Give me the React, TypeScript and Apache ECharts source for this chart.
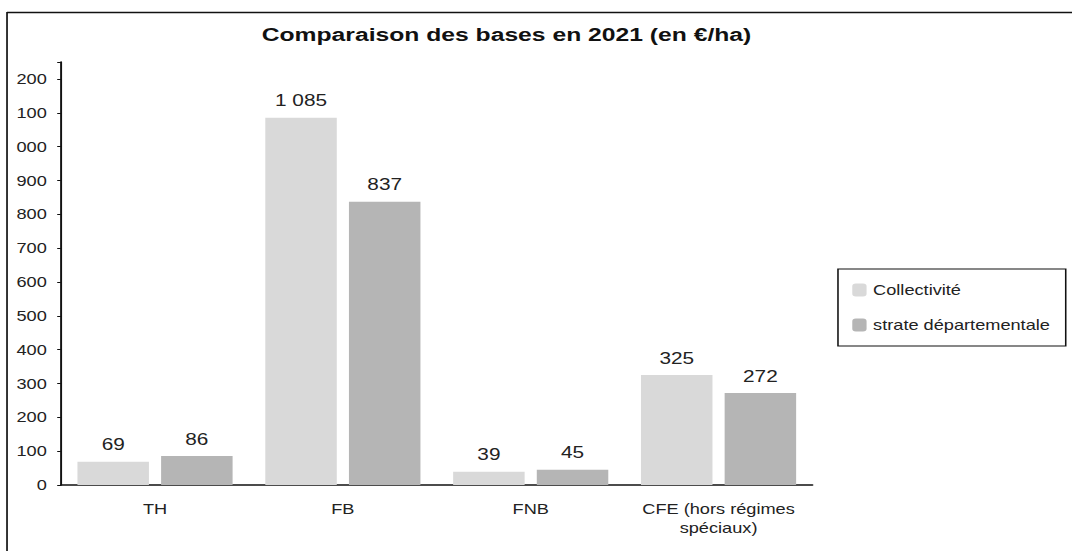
import React, { useEffect, useRef } from 'react';
import * as echarts from 'echarts';

const categories = ['TH', 'FB', 'FNB', 'CFE (hors régimes\nspéciaux)'];
const collectivite = [69, 1085, 39, 325];
const strate = [86, 837, 45, 272];
const seriesNames = ['Collectivité', 'strate départementale'];
const titleText = 'Comparaison des bases en 2021 (en €/ha)';

const SX = 1.3;
const W = 1072 / SX;
const H = 551;
const FONT = '"Liberation Sans", Arial, sans-serif';

const fmt = (v: number) => String(v).replace(/\B(?=(\d{3})+(?!\d))/g, ' ');

export default function App() {
  const ref = useRef<HTMLDivElement>(null);
  useEffect(() => {
    if (!ref.current) return;
    const chart = echarts.init(ref.current, undefined, { renderer: 'svg' });
    const barLabel = {
      show: true,
      position: 'top',
      distance: 9,
      fontFamily: FONT,
      fontSize: 16,
      color: '#222',
      formatter: (p: any) => fmt(p.value),
    };
    chart.setOption({
      animation: false,
      backgroundColor: '#fff',
      textStyle: { fontFamily: FONT },
      title: {
        text: titleText,
        left: 389.6,
        textAlign: 'center',
        top: 25,
        padding: 0,
        textStyle: { fontFamily: FONT, fontSize: 19, fontWeight: 'bold', color: '#111' },
      },
      legend: {
        orient: 'vertical',
        left: 644.6,
        top: 269,
        padding: [14, 12, 14, 11],
        borderColor: '#111',
        borderWidth: 1.2,
        itemWidth: 11,
        itemHeight: 13,
        itemGap: 21,
        textStyle: { fontFamily: FONT, fontSize: 14, color: '#222' },
        data: seriesNames,
      },
      grid: { left: 47, right: W - 624.6, top: 62, bottom: H - 485, containLabel: false },
      xAxis: {
        type: 'category',
        data: categories,
        axisLine: { lineStyle: { color: '#111', width: 1.5 } },
        axisTick: { show: false },
        axisLabel: { interval: 0, fontFamily: FONT, fontSize: 14, color: '#222', margin: 14, lineHeight: 19 },
      },
      yAxis: {
        type: 'value',
        min: 0,
        max: 1250,
        interval: 100,
        splitLine: { show: false },
        axisLine: { show: true, lineStyle: { color: '#111', width: 1.5 } },
        axisTick: { show: true, length: 3, lineStyle: { color: '#111' } },
        axisLabel: {
          fontFamily: FONT,
          fontSize: 14,
          color: '#222',
          margin: 11,
          formatter: (v: number) =>
            v % 100 !== 0 ? '' : v >= 1000 ? String(v % 1000).padStart(3, '0') : String(v),
        },
      },
      series: [
        {
          name: seriesNames[0],
          type: 'bar',
          data: collectivite,
          barWidth: 55,
          barGap: '17%',
          itemStyle: { color: '#d9d9d9' },
          label: barLabel,
        },
        {
          name: seriesNames[1],
          type: 'bar',
          data: strate,
          barWidth: 55,
          itemStyle: { color: '#b5b5b5' },
          label: barLabel,
        },
      ],
      graphic: [
        {
          type: 'line',
          shape: { x1: 5.4, y1: 12, x2: 5.4, y2: H },
          style: { stroke: '#111', lineWidth: 1.3 },
        },
        {
          type: 'line',
          shape: { x1: 5.4, y1: 12.5, x2: W, y2: 12.5 },
          style: { stroke: '#111', lineWidth: 1.5 },
        },
      ],
    });
    return () => chart.dispose();
  }, []);
  return (
    <div style={{ position: 'fixed', left: 0, top: 0, width: 1072, height: H, overflow: 'hidden', background: '#fff' }}>
      <div
        ref={ref}
        style={{ width: W, height: H, transform: `scaleX(${SX})`, transformOrigin: '0 0' }}
      />
    </div>
  );
}
